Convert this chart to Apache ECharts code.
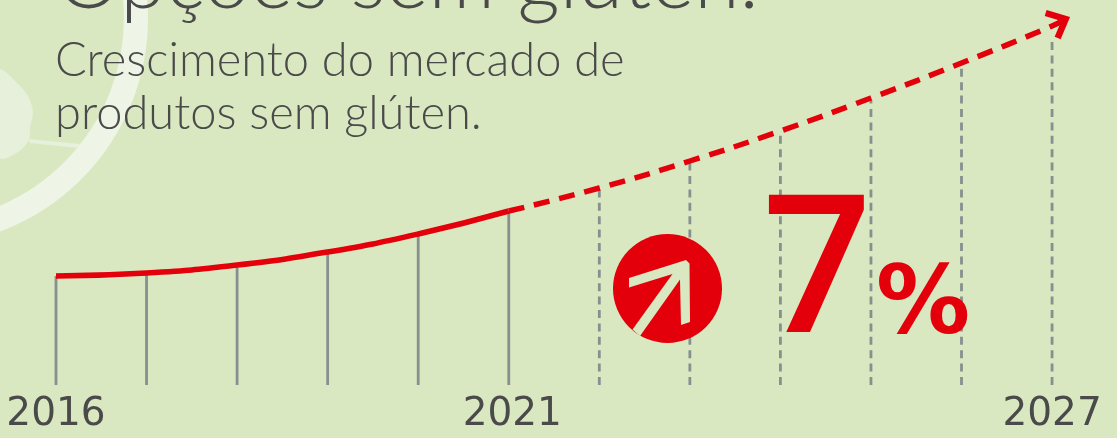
<!DOCTYPE html>
<html>
<head>
<meta charset="utf-8">
<style>
  html, body { margin: 0; padding: 0; background: #dae8c1; }
  #chart { width: 1117px; height: 438px; }
</style>
<script src="https://cdn.jsdelivr.net/npm/echarts@6/dist/echarts.min.js"></script>
</head>
<body>
<div id="chart"></div>
<script>
// values are heights above the baseline
const years = [2016, 2017, 2018, 2019, 2020, 2021, 2022, 2023, 2024, 2025, 2026, 2027];
const dropValues = [109, 112, 120, 133, 151, 173, 195, 223, 253, 285, 319, 344];
const actualYears = [2016, 2017, 2018, 2019, 2020, 2021];
const actualValues = [109, 112, 120, 133, 151, 174];
const forecastYears = [2021, 2022, 2023, 2024, 2025, 2026, 2027, 2027.15];
const forecastValues = [174, 197, 224, 254, 287, 322, 359, 366];
const labelYears = [2016, 2021, 2027];
const lastForecastYear = 2021;

const RED = "#e3000b";
const GREY = "#87908f";
const TEXT = "#4a4a4a";
const BG = "#dae8c1";
const PALE = "#eef5e6";
const LEAF = "#e6f0da";

const chart = echarts.init(document.getElementById("chart"), null, { renderer: "canvas" });

function pairs(xs, ys) {
  return xs.map((x, i) => [x, ys[i]]);
}

chart.setOption({
  animation: false,
  backgroundColor: BG,
  grid: { left: 56, right: 0, top: 0, bottom: 53 },
  xAxis: {
    type: "value",
    min: 2016,
    max: 2027.684,
    interval: 1,
    splitLine: { show: false },
    axisLine: { show: false },
    axisTick: { show: false },
    axisLabel: {
      margin: 10,
      fontFamily: "DejaVu Sans",
      fontSize: 39,
      color: TEXT,
      // 2021 sits a little right of its tick in the original
      formatter: (v) => {
        if (!labelYears.includes(v)) return "";
        return v === lastForecastYear ? `{shift|${v}}` : String(v);
      },
      rich: {
        shift: { fontFamily: "DejaVu Sans", fontSize: 39, color: TEXT, padding: [0, 0, 0, 7] },
      },
    },
  },
  yAxis: { type: "value", min: 0, max: 385, show: false },
  series: [
    {
      // vertical drop lines, solid up to 2021 and dashed for the forecast
      type: "custom",
      z: 1,
      data: pairs(years, dropValues),
      renderItem: (params, api) => {
        const bottom = api.coord([api.value(0), 0]);
        const top = api.coord([api.value(0), api.value(1)]);
        return {
          type: "line",
          shape: { x1: bottom[0], y1: bottom[1], x2: top[0], y2: top[1] },
          style: {
            stroke: GREY,
            lineWidth: 2.8,
            lineDash: api.value(0) > lastForecastYear ? [8, 5.4] : null,
          },
        };
      },
    },
    {
      type: "line",
      z: 3,
      smooth: 0.5,
      symbol: "none",
      clip: false,
      data: pairs(actualYears, actualValues),
      lineStyle: { color: RED, width: 5.5 },
    },
    {
      type: "line",
      z: 3,
      smooth: 0.5,
      symbol: "none",
      clip: false,
      data: pairs(forecastYears, forecastValues),
      lineStyle: { color: RED, width: 5.5, type: [16, 10] },
    },
    {
      // arrow head on the last forecast point
      type: "custom",
      z: 4,
      clip: false,
      data: pairs(forecastYears.slice(-1), forecastValues.slice(-1)),
      renderItem: (params, api) => {
        const tip = api.coord([api.value(0), api.value(1)]);
        return {
          type: "polyline",
          shape: {
            points: [
              [tip[0] - 20, tip[1] - 6],
              [tip[0], tip[1]],
              [tip[0] - 8, tip[1] + 19],
            ],
          },
          style: { stroke: RED, fill: null, lineWidth: 6.5, lineJoin: "miter" },
        };
      },
    },
  ],
  graphic: [
    // pale ring and leaf behind everything
    {
      type: "arc",
      z: -1,
      shape: { cx: -80, cy: 18, r: 216 },
      style: { stroke: PALE, lineWidth: 24, fill: null },
    },
    {
      type: "polygon",
      z: -1,
      shape: {
        smooth: 0.3,
        points: [
          [0, 70], [16, 82], [28, 96], [33, 112], [30, 128], [29, 140], [18, 152], [0, 158], [-10, 110],
        ],
      },
      style: { fill: LEAF },
    },
    {
      type: "polygon",
      z: -1,
      shape: { points: [[29, 139], [80, 144], [78, 148], [30, 143]] },
      style: { fill: LEAF },
    },
    {
      type: "text",
      z: 10,
      x: 56,
      y: -60,
      style: {
        text: "Opções sem glúten.",
        font: '300 82.5px "Lato"',
        fill: TEXT,
      },
    },
    {
      type: "text",
      z: 10,
      x: 55,
      y: 34,
      style: {
        text: "Crescimento do mercado de\nprodutos sem glúten.",
        font: '300 47px "Lato"',
        lineHeight: 53,
        fill: TEXT,
      },
    },
    // round icon with arrow
    {
      type: "circle",
      z: 10,
      shape: { cx: 667.5, cy: 288.5, r: 54.5 },
      style: { fill: RED },
    },
    {
      type: "polygon",
      z: 11,
      shape: {
        points: [
          [629, 278], [686, 260], [689.5, 263.5], [690, 322], [681, 325], [680, 279.5],
          [640, 336], [632.5, 329.5], [672.5, 274], [629, 287.5],
        ],
      },
      style: { fill: BG },
    },
    {
      type: "text",
      z: 10,
      x: 762,
      y: 181,
      style: { text: "7", font: '600 192px "Open Sans"', fill: RED },
    },
    {
      type: "text",
      z: 10,
      x: 876,
      y: 262,
      style: { text: "%", font: 'bold 94px "DejaVu Sans"', fill: RED },
    },
  ],
});
</script>
</body>
</html>
